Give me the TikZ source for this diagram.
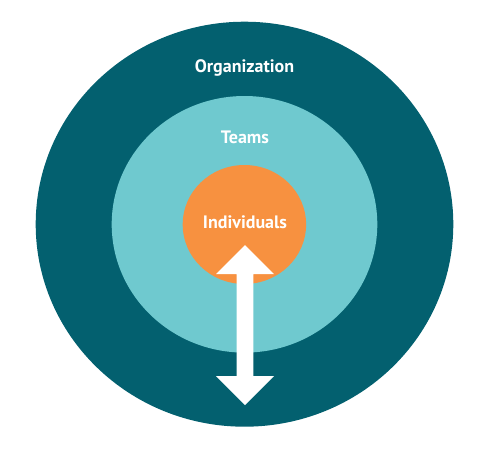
\documentclass[tikz,border=0pt]{standalone}
\usepackage{fontspec}
\setmainfont{PT Sans}
\definecolor{orgc}{HTML}{03606F}
\definecolor{teamc}{HTML}{6FC9CF}
\definecolor{indc}{HTML}{F79140}
\begin{document}
\begin{tikzpicture}[x=1pt,y=-1pt,
  lbl/.style={text=white,font=\bfseries\fontsize{18}{20}\selectfont,inner sep=0pt}]
\useasboundingbox (0,0) rectangle (480,451);
\fill[orgc] (244.5,224.2) ellipse [x radius=208.8,y radius=202.5];
\fill[teamc] (244.5,224.3) ellipse [x radius=132.8,y radius=128.3];
\fill[indc] (244.4,224.5) ellipse [x radius=61.7,y radius=59.5];
\node[lbl] (org) at (244.5,68) {Organization};
\node[lbl] (team) at (245,137) {Teams};
\node[lbl] (ind) at (245,222.5) {Individuals};
\fill[white] (245,245) -- (274,274) -- (253.3,274) -- (253.3,376) -- (274,376)
  -- (245,405) -- (216,376) -- (236.7,376) -- (236.7,274) -- (216,274) -- cycle;
\end{tikzpicture}
\end{document}
